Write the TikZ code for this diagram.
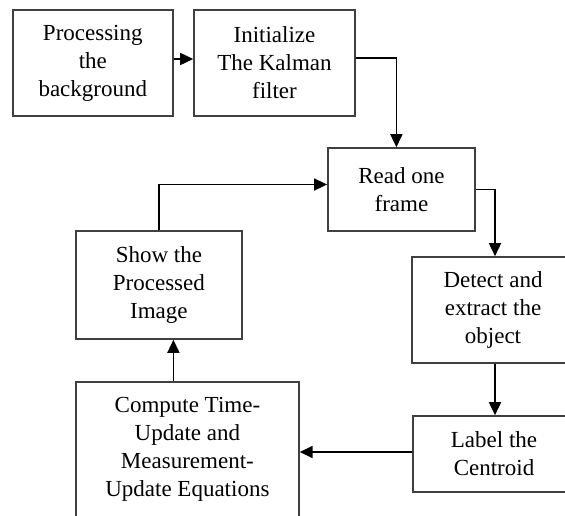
\documentclass[tikz,border=0pt]{standalone}
\usepackage{fontspec}
\setmainfont{Liberation Serif}
\usetikzlibrary{arrows.meta}
\tikzset{
  box/.style={draw=black!75, line width=1.6pt, rectangle, inner sep=0pt, align=center,
    font=\fontsize{23}{28}\selectfont, text=black},
  arr/.style={draw=black, line width=1.6pt, -{Triangle[length=13pt,width=12pt]}}
}
\begin{document}
\begin{tikzpicture}[x=1pt,y=-1pt]
\useasboundingbox (0,0) rectangle (565,515);
\clip (0,0) rectangle (565,515);
\node[box, minimum width=160pt, minimum height=106pt] (b1) at (92.8,63) {Processing\\the\\background};
\node[box, minimum width=161pt, minimum height=106pt] (b2) at (274.5,63) {Initialize\\The Kalman\\filter};
\node[box, minimum width=147pt, minimum height=83pt] (b3) at (401.4,189.5) {Read one\\frame};
\node[box, minimum width=162pt, minimum height=106pt] (b4) at (493,310) {Detect and\\extract the\\object};
\node[box, minimum width=162pt, minimum height=76pt] (b5) at (494,454) {Label the\\Centroid};
\node[box, minimum width=223pt, minimum height=135pt] (b6) at (187.4,449.5) {Compute Time-\\Update and\\Measurement-\\Update Equations};
\node[box, minimum width=166pt, minimum height=108pt] (b7) at (158.9,285) {Show the\\Processed\\Image};

\draw[arr] ([yshift=4pt]b1.east) -- ([yshift=4pt]b2.west);
\draw[arr] ([yshift=5pt]b2.east) -| ([xshift=-5pt]b3.north);
\draw[arr] (b3.east) -| ([xshift=2pt]b4.north);
\draw[arr] ([xshift=2pt]b4.south) -- ([xshift=2pt]b4.south |- b5.north);
\draw[arr] ([yshift=2pt]b5.west) -- ([yshift=2pt]b5.west -| b6.east);
\draw[arr] ([xshift=-14pt]b6.north) -- ([xshift=-14pt]b6.north |- b7.south);
\draw[arr] (b7.north) |- ([yshift=5pt]b3.west);
\end{tikzpicture}
\end{document}
